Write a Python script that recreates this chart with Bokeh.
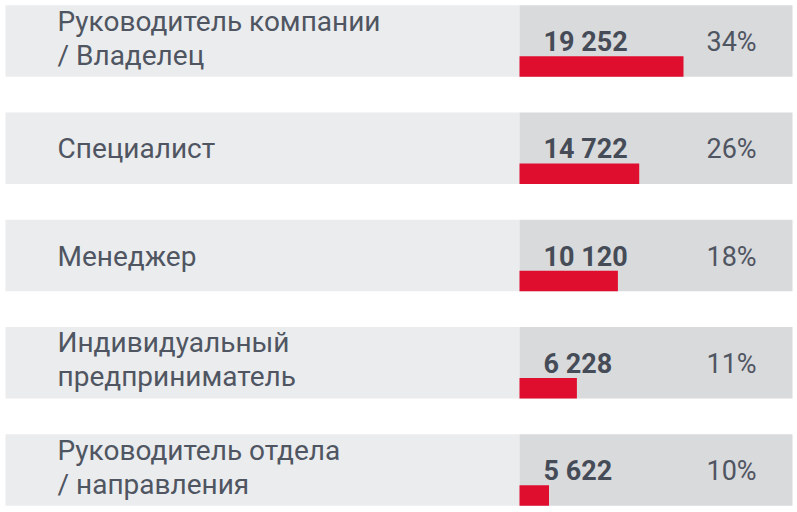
from bokeh.plotting import figure
from bokeh.models import Range1d, ColumnDataSource
from bokeh.core.properties import value
from bokeh.embed import file_html
from bokeh.resources import INLINE

# ---- data ----
categories = [
    "Руководитель компании\n/ Владелец",
    "Специалист",
    "Менеджер",
    "Индивидуальный\nпредприниматель",
    "Руководитель отдела\n/ направления",
]
counts = [19252, 14722, 10120, 6228, 5622]
shares = [34, 26, 18, 11, 10]
# relative bar length as drawn (longest = 100)
bar_level = [100, 73, 60, 35, 18]

W, H = 797, 512
ROW_PX = 107.25
BAND_PX = 71.5
BAR_PX = 20.5
TOP_PX = 40.5

rows = list(range(len(categories)))
y_top = -TOP_PX / ROW_PX
y_bot = y_top + H / ROW_PX

p = figure(width=W, height=H, output_backend="svg", toolbar_location=None,
           x_range=Range1d(0, W), y_range=Range1d(y_bot, y_top),
           min_border=0, min_border_left=0, min_border_right=0,
           min_border_top=0, min_border_bottom=0)
p.xaxis.visible = False
p.yaxis.visible = False
p.grid.visible = False
p.outline_line_color = None
p.background_fill_color = "white"
p.border_fill_color = "white"

# bar scale: 0 -> px 519, 100 -> px 683
unit = (683 - 519) / 100.0
bs = -519 / unit
p.extra_x_ranges = {"bar": Range1d(bs, bs + W / unit)}

band_h = BAND_PX / ROW_PX
p.hbar(y=rows, left=5, right=519, height=band_h, fill_color="#ebecee", line_color=None)
p.hbar(y=rows, left=519, right=792, height=band_h, fill_color="#d9dadc", line_color=None)

bar_h = BAR_PX / ROW_PX
bar_y = [r + (BAND_PX / 2 - BAR_PX / 2) / ROW_PX for r in rows]
p.hbar(y=bar_y, left=0, right=bar_level, height=bar_h, fill_color="#df0e2e",
       line_color=None, x_range_name="bar")

# labels: split into lines
lx, ly, lt, loff = [], [], [], []
for r, c in zip(rows, categories):
    parts = c.split("\n")
    if len(parts) == 1:
        lx.append(57); ly.append(r); lt.append(parts[0]); loff.append(0.5)
    else:
        lx += [57, 57]; ly += [r, r]; lt += parts; loff += [-20, 14]
src = ColumnDataSource(dict(x=lx, y=ly, t=lt, off=loff))
p.text(x="x", y="y", text="t", y_offset="off", source=src,
       text_font=value("Roboto"), text_font_size="28px", text_color="#4f5561",
       text_baseline="alphabetic", text_align="left")

num_txt = [f"{v:,}".replace(",", " ") for v in counts]
p.text(x=[543] * 5, y=rows, text=num_txt, y_offset=1,
       text_font=value("Roboto"), text_font_size="27px", text_font_style="bold",
       text_color="#464c57", text_baseline="alphabetic", text_align="left")

pct_txt = [f"{v}%" for v in shares]
p.text(x=[706] * 5, y=rows, text=pct_txt, y_offset=1,
       text_font=value("Roboto"), text_font_size="27px", text_color="#4f5561",
       text_baseline="alphabetic", text_align="left")

open("out.html", "w").write(file_html(p, INLINE))
